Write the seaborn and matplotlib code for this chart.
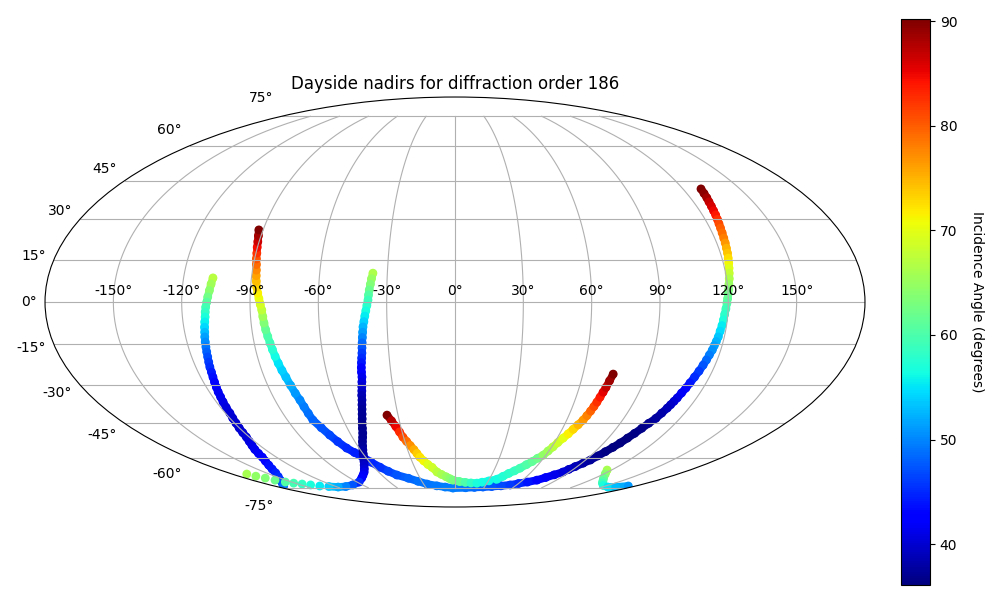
import matplotlib
matplotlib.use("Agg")
import matplotlib.pyplot as plt
from matplotlib.collections import LineCollection
import seaborn as sns
import numpy as np
import pandas as pd

# Nadir tracks, values (degrees)
# long track, right top end round the south to left top end
lon_a = [129.5, 128.9, 128.4, 127.8, 127.3, 126.8, 126.4, 125.9, 125.4, 125.0, 124.6, 124.2, 123.9, 123.5, 123.2, 122.8,
         122.4, 122.0, 121.6, 121.2, 120.7, 120.3, 120.0, 119.7, 119.4, 119.0, 118.6, 118.3, 118.0, 117.6, 117.3, 116.9,
         116.5, 116.2, 115.6, 115.1, 114.5, 113.8, 113.0, 112.3, 111.7, 111.0, 110.4, 109.9, 109.4, 108.9, 108.0, 107.1,
         105.5, 104.1, 102.7, 101.3, 99.9, 98.3, 96.6, 95.0, 93.3, 91.0, 88.5, 86.5, 84.8, 81.0, 77.0, 72.7,
         66.5, 60.0, 53.7, 45.5, 37.0, 28.5, 20.0, 11.0, -2.1, -10.0, -18.0, -26.7, -33.5, -40.0, -47.6, -52.0,
         -55.6, -59.0, -62.0, -65.0, -67.8, -70.3, -72.3, -74.3, -76.3, -76.7, -77.1, -77.5, -78.3, -79.0, -79.8, -80.6,
         -81.3, -81.9, -82.4, -82.9, -83.4, -83.9, -84.3, -84.6, -84.9, -85.5, -86.1, -86.7, -87.3, -87.7, -88.0, -88.3,
         -88.7, -89.2, -89.6, -90.1, -90.6, -91.2, -92.0]
lat_a = [41.7, 39.9, 38.2, 36.6, 34.9, 33.2, 31.6, 29.9, 28.3, 26.7, 24.9, 23.0, 21.2, 19.3, 17.5, 15.7,
         13.9, 12.1, 10.3, 8.3, 6.3, 4.3, 2.8, 1.2, -0.4, -2.4, -4.4, -6.4, -8.4, -10.4, -12.5, -14.1,
         -15.6, -17.2, -19.0, -20.8, -22.7, -24.9, -27.1, -29.3, -31.2, -33.1, -35.0, -36.3, -37.6, -38.9, -40.9, -43.0,
         -45.0, -47.0, -49.1, -51.1, -53.2, -55.1, -57.0, -58.9, -60.8, -62.3, -63.9, -65.3, -66.6, -68.0, -69.4, -70.8,
         -71.8, -72.6, -73.4, -73.9, -74.3, -74.6, -74.8, -75.0, -75.2, -74.6, -73.9, -72.9, -71.4, -69.8, -68.1, -66.2,
         -64.2, -61.8, -59.5, -57.4, -55.4, -52.6, -49.8, -46.8, -43.7, -41.0, -38.4, -35.8, -33.2, -30.2, -27.1, -24.6,
         -22.0, -19.5, -17.0, -14.65, -12.3, -9.9, -7.5, -5.2, -2.85, -0.9, 1.2, 3.2, 5.3, 7.4, 9.4, 11.4,
         13.4, 15.4, 17.5, 19.6, 21.7, 23.8, 26.0]
inc_a = [90.2, 89.5, 88.5, 87.0, 86.0, 85.0, 84.0, 82.5, 81.0, 80.0, 79.0, 78.0, 76.5, 75.0, 74.0, 72.5,
         71.0, 69.5, 68.0, 66.5, 65.0, 63.5, 62.5, 61.5, 60.5, 59.0, 58.0, 57.0, 55.5, 54.5, 53.5, 52.5,
         51.5, 50.5, 49.5, 48.5, 47.5, 46.0, 45.0, 44.0, 43.0, 42.0, 41.0, 40.3, 39.6, 39.0, 38.2, 37.6,
         37.1, 36.7, 36.4, 36.2, 36.1, 36.2, 36.4, 36.8, 37.4, 38.0, 38.8, 39.6, 40.5, 41.3, 42.0, 43.0,
         44.0, 45.0, 46.0, 46.7, 47.4, 48.0, 48.5, 49.0, 49.6, 49.6, 49.4, 49.2, 48.8, 48.3, 47.5, 46.5,
         45.5, 44.8, 44.3, 44.5, 45.0, 45.8, 46.8, 47.5, 48.3, 48.9, 49.5, 50.2, 51.0, 52.0, 53.2, 54.0,
         55.0, 56.3, 57.5, 59.0, 60.0, 61.5, 63.5, 65.5, 67.5, 69.0, 70.5, 71.5, 73.0, 74.5, 76.0, 77.5,
         79.0, 80.5, 82.5, 84.5, 86.5, 88.5, 90.2]

# left track, ends at the map edge
lon_b = [-107.0, -107.5, -108.0, -108.6, -109.0, -109.5, -109.8, -110.0, -110.4, -110.8, -111.1, -111.5, -111.8, -112.1, -112.4,
         -112.7, -113.1, -113.5, -113.8, -114.2, -114.7, -115.2, -115.7, -116.1, -116.6, -117.1, -117.6, -118.4, -119.2, -120.1,
         -120.9, -121.8, -123.2, -124.8, -126.5, -128.0, -129.5, -132.0, -135.0, -138.5, -142.5, -148.0, -155.0, -162.0, -170.6]
lat_b = [8.6, 6.4, 4.1, 1.8, 0.0, -1.8, -3.6, -5.35, -7.1, -9.0, -10.8, -12.5, -14.3, -16.1, -17.9,
         -19.7, -21.6, -23.4, -25.3, -27.1, -29.0, -30.9, -32.7, -34.6, -36.5, -38.6, -40.9, -42.9, -44.9, -46.9,
         -48.8, -50.7, -52.5, -54.3, -56.0, -57.8, -59.5, -61.3, -63.2, -65.1, -67.0, -68.9, -70.8, -72.4, -74.0]
inc_b = [67.0, 65.5, 64.0, 62.5, 61.0, 59.5, 58.3, 57.0, 55.7, 54.3, 53.0, 51.5, 50.3, 49.0, 48.0,
         47.0, 46.0, 45.2, 44.3, 43.5, 42.9, 42.3, 41.8, 41.4, 41.0, 40.6, 40.3, 40.1, 40.0, 40.0,
         40.2, 40.4, 40.7, 41.0, 41.5, 42.0, 42.5, 43.0, 43.5, 44.0, 44.6, 45.3, 46.0, 47.5, 49.0]

# middle track, turns west at the bottom
lon_c = [-36.4, -36.9, -37.3, -37.7, -38.0, -38.2, -38.7, -39.2, -39.7, -40.2, -40.7, -41.0, -41.3, -41.6, -41.9,
         -42.2, -42.6, -43.0, -43.4, -43.7, -43.9, -44.4, -44.9, -45.4, -46.0, -46.5, -47.2, -47.9, -48.7, -49.6,
         -50.6, -51.6, -52.7, -54.0, -55.5, -57.0, -58.5, -60.0, -61.4, -63.5, -65.8, -68.5, -71.4, -75.5, -80.0,
         -88.0, -99.5, -110.0, -119.2, -127.2, -134.7, -140.5, -146.0, -151.3, -155.8, -159.7, -162.7, -165.8, -168.1]
lat_c = [10.3, 8.3, 6.3, 4.3, 2.5, 0.7, -1.2, -3.1, -5.0, -7.0, -8.9, -10.8, -12.7, -14.6, -16.4,
         -18.3, -20.1, -21.8, -23.6, -25.3, -27.1, -28.9, -30.6, -32.3, -34.0, -35.8, -37.6, -39.4, -41.3, -43.2,
         -45.1, -47.0, -49.0, -50.8, -52.6, -54.5, -56.3, -58.0, -59.5, -61.4, -63.2, -65.0, -66.6, -68.2, -69.7,
         -71.8, -73.4, -74.3, -74.6, -74.3, -74.0, -73.4, -72.9, -72.4, -71.8, -70.8, -69.7, -68.7, -67.6]
inc_c = [66.5, 65.0, 63.5, 62.0, 60.5, 59.0, 58.0, 56.7, 55.4, 54.0, 52.5, 51.2, 49.9, 48.5, 47.2,
         46.0, 45.0, 44.0, 43.0, 42.2, 41.5, 40.7, 40.0, 39.4, 38.8, 38.3, 37.9, 37.5, 37.2, 37.0,
         36.9, 36.9, 37.0, 37.1, 37.3, 37.5, 37.8, 38.1, 38.5, 39.0, 39.6, 40.3, 41.0, 42.0, 43.0,
         45.0, 47.5, 50.0, 52.0, 54.0, 55.5, 57.0, 58.5, 59.5, 60.5, 62.0, 63.5, 64.5, 66.0]

# U shaped track in the south
lon_d = [-35.8, -34.2, -32.7, -31.5, -30.4, -29.0, -27.5, -26.0, -24.8, -23.6, -21.7, -19.5, -17.0, -14.1, -11.0, -7.5, -4.5,
         -1.8, 4.0, 9.5, 15.0, 20.5, 25.0, 30.5, 36.7, 40.0, 43.0, 46.0, 48.7, 51.5, 54.0, 56.0, 58.2, 59.5,
         60.8, 62.0, 63.5, 64.9, 66.2, 67.5, 68.8, 69.6, 70.3, 70.9, 71.4, 71.9, 72.4, 72.9, 73.5, 74.2]
lat_d = [-41.7, -44.0, -46.3, -48.5, -50.7, -52.5, -54.3, -56.1, -57.8, -59.5, -61.2, -62.9, -64.3, -66.6, -67.8, -69.0, -70.0,
         -70.8, -71.5, -72.0, -72.3, -72.4, -71.9, -71.2, -70.3, -68.8, -67.3, -66.0, -64.7, -63.0, -61.5, -60.0, -58.6, -56.7,
         -54.9, -53.0, -51.1, -49.3, -47.4, -45.6, -43.7, -41.9, -40.1, -38.3, -36.6, -34.7, -32.8, -31.0, -28.5, -26.0]
inc_d = [90.2, 87.5, 85.0, 83.0, 81.0, 79.0, 77.0, 75.3, 73.7, 72.3, 71.0, 69.5, 68.5, 67.3, 66.0, 65.0, 64.0,
         63.0, 61.5, 60.0, 58.5, 57.0, 56.5, 56.3, 56.5, 57.3, 58.0, 58.7, 59.5, 60.3, 61.3, 62.3, 64.5, 65.5,
         67.0, 68.5, 70.0, 71.5, 73.0, 74.8, 76.5, 77.8, 79.5, 81.0, 82.5, 84.0, 85.5, 87.0, 88.7, 90.2]

# short piece near the right edge
lon_e = [116.6, 121.0, 127.4, 133.0, 138.2, 146.0, 155.9, 164.0, 172.6]
lat_e = [-65.6, -67.5, -69.7, -71.2, -72.4, -73.7, -74.6, -74.6, -74.0]
inc_e = [66.0, 64.0, 62.0, 60.5, 59.0, 57.0, 55.0, 53.0, 51.0]

df = pd.DataFrame({
    "lon": np.radians(lon_a + lon_b + lon_c + lon_d + lon_e),
    "lat": np.radians(lat_a + lat_b + lat_c + lat_d + lat_e),
    "inc": inc_a + inc_b + inc_c + inc_d + inc_e,
})
norm = plt.Normalize(df["inc"].min(), df["inc"].max())
jet = plt.get_cmap("jet")


def fill_track(ax, lon, lat, inc):
    # band under the dots so the dense stretches read as continuous
    pts = np.radians(np.column_stack([lon, lat]))
    segs = np.stack([pts[:-1], pts[1:]], axis=1)
    mid = (np.array(inc[:-1]) + np.array(inc[1:])) / 2
    lc = LineCollection(segs, colors=jet(norm(mid)), linewidths=5.6, capstyle="round", zorder=0.9)
    ax.add_collection(lc, autolim=False)


fig = plt.figure(figsize=(10, 6), dpi=100)
ax = fig.add_axes([0.045, 0.155, 0.82, 0.6833], projection="mollweide")
fill_track(ax, lon_a, lat_a, inc_a)
fill_track(ax, lon_b, lat_b, inc_b)
# the far end of this track is separate dots in the reference
fill_track(ax, lon_c[:50], lat_c[:50], inc_c[:50])
fill_track(ax, lon_d, lat_d, inc_d)
fill_track(ax, lon_e, lat_e, inc_e)
sns.scatterplot(data=df, x="lon", y="lat", hue="inc", palette=jet, hue_norm=norm,
                s=40, linewidth=0, legend=False, ax=ax)
ax.set_xlabel("")
ax.set_ylabel("")
ax.grid(True)
ax.set_title("Dayside nadirs for diffraction order 186")

cax = fig.add_axes([0.901, 0.025, 0.029, 0.9433])
sm = plt.cm.ScalarMappable(norm=norm, cmap=jet)
cbar = fig.colorbar(sm, cax=cax)
cbar.set_label("Incidence Angle (degrees)", rotation=270, labelpad=19)

plt.savefig("out.png")
plt.close()
